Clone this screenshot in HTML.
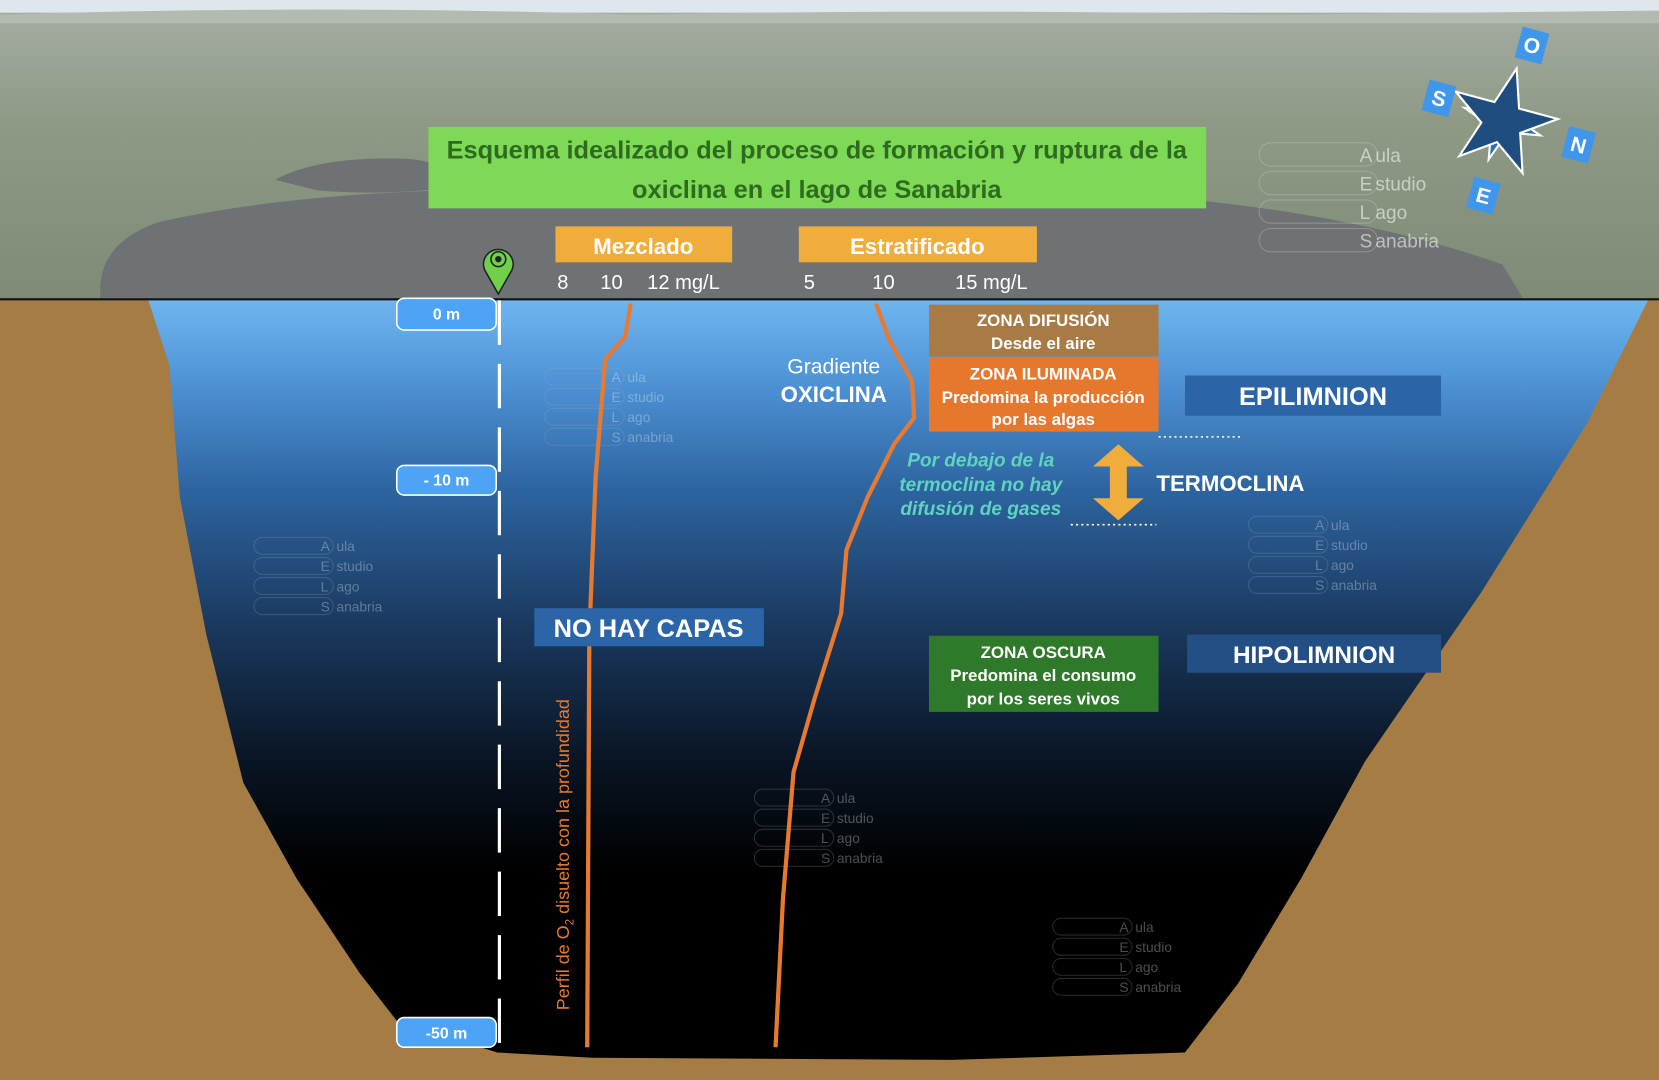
<!DOCTYPE html>
<html><head><meta charset="utf-8"><style>
html,body{margin:0;padding:0;width:1659px;height:1080px;overflow:hidden;background:#a67c45}
svg{display:block}
text{font-family:"Liberation Sans",Arial,sans-serif}
</style></head><body>
<svg width="1659" height="1080" viewBox="0 0 1568 1021" preserveAspectRatio="none" xmlns="http://www.w3.org/2000/svg">
<defs>
<linearGradient id="land" x1="0" y1="0" x2="0" y2="1">
<stop offset="0" stop-color="#a7aea4"/><stop offset="0.4" stop-color="#8e9a86"/><stop offset="1" stop-color="#7f8b77"/></linearGradient>
<linearGradient id="water" x1="0" y1="0" x2="0" y2="1">
<stop offset="0" stop-color="#6fb6f0"/><stop offset="0.12" stop-color="#4b8fd2"/><stop offset="0.25" stop-color="#2d64a0"/><stop offset="0.42" stop-color="#1b3b62"/><stop offset="0.6" stop-color="#0a1626"/><stop offset="0.75" stop-color="#000"/><stop offset="1" stop-color="#000"/></linearGradient>
</defs>
<rect x="0" y="0" width="1568" height="1021" fill="#a67c45"/>
<rect x="0" y="0" width="1568" height="284" fill="url(#land)"/>
<rect x="0" y="0" width="1568" height="12" fill="#dfe7ec"/>
<path d="M0,14 Q300,4 600,14 Q900,8 1200,14 L1568,10 L1568,22 L0,22Z" fill="#b4bab2"/>
<path d="M260,170 Q300,148 380,150 Q430,152 420,178 Q360,185 300,180Z" fill="#6e7274"/>
<path d="M95,283 Q90,230 150,210 Q260,185 420,180 L1000,180 Q1250,190 1420,250 L1440,283Z" fill="#6e7274"/>
<!-- water -->
<path d="M140,283 L1558,283 L1500,400 L1400,560 L1290,720 L1230,830 L1170,930 L1120,995 L900,1002 L560,1000 L470,995 L375,965 L340,920 L280,830 L230,740 L195,600 L170,470 L160,345 Z" fill="url(#water)"/>
<line x1="0" y1="283" x2="1568" y2="283" stroke="#111" stroke-width="2"/>
<!-- watermarks -->
<g fill="none" stroke="#c8ccc8" stroke-opacity="0.35" font-size="18">
<g transform="translate(1190,135)"><rect x="0" y="0" width="112" height="22" rx="11"/><rect x="0" y="27" width="112" height="22" rx="11"/><rect x="0" y="54" width="112" height="22" rx="11"/><rect x="0" y="81" width="112" height="22" rx="11"/>
<g fill="#ffffff" fill-opacity="0.55" stroke="none"><text x="95" y="18">A</text><text x="110" y="18">ula</text><text x="95" y="45">E</text><text x="110" y="45">studio</text><text x="95" y="72">L</text><text x="110" y="72">ago</text><text x="95" y="99">S</text><text x="110" y="99">anabria</text></g></g>
</g>
<g fill="none" stroke="#9ab" stroke-opacity="0.25" font-size="13">
<g transform="translate(515,348)"><rect width="75" height="16" rx="8"/><rect y="19" width="75" height="16" rx="8"/><rect y="38" width="75" height="16" rx="8"/><rect y="57" width="75" height="16" rx="8"/><g fill="#fff" fill-opacity="0.3" stroke="none"><text x="63" y="13">A</text><text x="78" y="13">ula</text><text x="63" y="32">E</text><text x="78" y="32">studio</text><text x="63" y="51">L</text><text x="78" y="51">ago</text><text x="63" y="70">S</text><text x="78" y="70">anabria</text></g></g>
<g transform="translate(240,508)"><rect width="75" height="16" rx="8"/><rect y="19" width="75" height="16" rx="8"/><rect y="38" width="75" height="16" rx="8"/><rect y="57" width="75" height="16" rx="8"/><g fill="#fff" fill-opacity="0.3" stroke="none"><text x="63" y="13">A</text><text x="78" y="13">ula</text><text x="63" y="32">E</text><text x="78" y="32">studio</text><text x="63" y="51">L</text><text x="78" y="51">ago</text><text x="63" y="70">S</text><text x="78" y="70">anabria</text></g></g>
<g transform="translate(1180,488)"><rect width="75" height="16" rx="8"/><rect y="19" width="75" height="16" rx="8"/><rect y="38" width="75" height="16" rx="8"/><rect y="57" width="75" height="16" rx="8"/><g fill="#fff" fill-opacity="0.3" stroke="none"><text x="63" y="13">A</text><text x="78" y="13">ula</text><text x="63" y="32">E</text><text x="78" y="32">studio</text><text x="63" y="51">L</text><text x="78" y="51">ago</text><text x="63" y="70">S</text><text x="78" y="70">anabria</text></g></g>
<g transform="translate(713,746)"><rect width="75" height="16" rx="8"/><rect y="19" width="75" height="16" rx="8"/><rect y="38" width="75" height="16" rx="8"/><rect y="57" width="75" height="16" rx="8"/><g fill="#fff" fill-opacity="0.3" stroke="none"><text x="63" y="13">A</text><text x="78" y="13">ula</text><text x="63" y="32">E</text><text x="78" y="32">studio</text><text x="63" y="51">L</text><text x="78" y="51">ago</text><text x="63" y="70">S</text><text x="78" y="70">anabria</text></g></g>
<g transform="translate(995,868)"><rect width="75" height="16" rx="8"/><rect y="19" width="75" height="16" rx="8"/><rect y="38" width="75" height="16" rx="8"/><rect y="57" width="75" height="16" rx="8"/><g fill="#fff" fill-opacity="0.3" stroke="none"><text x="63" y="13">A</text><text x="78" y="13">ula</text><text x="63" y="32">E</text><text x="78" y="32">studio</text><text x="63" y="51">L</text><text x="78" y="51">ago</text><text x="63" y="70">S</text><text x="78" y="70">anabria</text></g></g>
</g>
<!-- compass -->
<g transform="translate(1420,115)">
<polygon points="0,-38 8,-8 38,0 8,8 0,38 -8,8 -38,0 -8,-8" fill="#2f6fb0" stroke="#fff" stroke-width="2" transform="rotate(20)"/>
<polygon points="0,-52 12,-16 50,-16 19,6 31,42 0,20 -31,42 -19,6 -50,-16 -12,-16" fill="#1f4d80" stroke="#fff" stroke-width="2" transform="rotate(15)"/>
<g font-weight="bold" font-size="20" fill="#fff" text-anchor="middle">
<g transform="translate(28,-72) rotate(15)"><rect x="-13" y="-15" width="26" height="30" fill="#3f96ea"/><text y="7">O</text></g>
<g transform="translate(-60,-22) rotate(15)"><rect x="-13" y="-15" width="26" height="30" fill="#3f96ea"/><text y="7">S</text></g>
<g transform="translate(72,22) rotate(15)"><rect x="-13" y="-15" width="26" height="30" fill="#3f96ea"/><text y="7">N</text></g>
<g transform="translate(-18,70) rotate(15)"><rect x="-13" y="-15" width="26" height="30" fill="#3f96ea"/><text y="7">E</text></g>
</g></g>
<!-- title -->
<rect x="405" y="120" width="735" height="77" fill="#7ed957"/>
<text x="772" y="150" text-anchor="middle" font-size="24" font-weight="bold" fill="#2e6b1f">Esquema idealizado del proceso de formación y ruptura de la</text>
<text x="772" y="187" text-anchor="middle" font-size="24" font-weight="bold" fill="#2e6b1f">oxiclina en el lago de Sanabria</text>
<rect x="525" y="214" width="167" height="34" fill="#f0ad3c"/>
<text x="608" y="240" text-anchor="middle" font-size="21" font-weight="bold" fill="#fff">Mezclado</text>
<rect x="755" y="214" width="225" height="34" fill="#f0ad3c"/>
<text x="867" y="240" text-anchor="middle" font-size="21" font-weight="bold" fill="#fff">Estratificado</text>
<g font-size="19" fill="#fff" text-anchor="middle"><text x="532" y="273">8</text><text x="578" y="273">10</text><text x="646" y="273">12 mg/L</text><text x="765" y="273">5</text><text x="835" y="273">10</text><text x="937" y="273">15 mg/L</text></g>
<!-- pin -->
<path d="M471,278 L458,255 A14,14 0 1,1 484,255 Z" fill="#6fd14a" stroke="#222" stroke-width="1.5"/>
<circle cx="471" cy="245" r="7" fill="none" stroke="#222" stroke-width="1.5"/><circle cx="471" cy="245" r="3" fill="#222"/>
<!-- axis -->
<line x1="472" y1="284" x2="472" y2="990" stroke="#fff" stroke-width="3" stroke-dasharray="42,18"/>
<g font-size="15" font-weight="bold" fill="#fff" text-anchor="middle">
<rect x="375" y="282" width="94" height="30" rx="7" fill="#4da3f5" stroke="#fff" stroke-width="1.5"/><text x="422" y="302">0 m</text>
<rect x="375" y="440" width="94" height="28" rx="7" fill="#4da3f5" stroke="#fff" stroke-width="1.5"/><text x="422" y="459">- 10 m</text>
<rect x="375" y="962" width="94" height="28" rx="7" fill="#4da3f5" stroke="#fff" stroke-width="1.5"/><text x="422" y="982">-50 m</text>
</g>
<!-- curves -->
<path d="M596,287 L591,318 L572,340 L563,450 L557,600 L555,990" fill="none" stroke="#e87a2f" stroke-width="4"/>
<path d="M828,287 L840,320 L862,360 L864,395 L845,420 L820,470 L800,520 L795,580 L770,660 L750,730 L740,850 L733,990" fill="none" stroke="#e87a2f" stroke-width="4"/>
<text transform="translate(538,808) rotate(-90)" text-anchor="middle" font-size="17" fill="#e87a2f">Perfil de O<tspan font-size="11" dy="4">2</tspan><tspan dy="-4"> disuelto con la profundidad</tspan></text>
<text x="788" y="353" text-anchor="middle" font-size="20" fill="#fff">Gradiente</text>
<text x="788" y="380" text-anchor="middle" font-size="21" font-weight="bold" fill="#fff">OXICLINA</text>
<!-- zones -->
<rect x="878" y="288" width="217" height="49" fill="#a87a44"/>
<text x="986" y="308" text-anchor="middle" font-size="16" font-weight="bold" fill="#fff">ZONA DIFUSIÓN</text>
<text x="986" y="330" text-anchor="middle" font-size="16" font-weight="bold" fill="#fff">Desde el aire</text>
<rect x="878" y="338" width="217" height="70" fill="#e6782e"/>
<g font-size="16" font-weight="bold" fill="#fff" text-anchor="middle"><text x="986" y="359">ZONA ILUMINADA</text><text x="986" y="381">Predomina la producción</text><text x="986" y="402">por las algas</text></g>
<rect x="878" y="601" width="217" height="72" fill="#2f7a2a"/>
<g font-size="16" font-weight="bold" fill="#fff" text-anchor="middle"><text x="986" y="622">ZONA OSCURA</text><text x="986" y="644">Predomina el consumo</text><text x="986" y="666">por los seres vivos</text></g>
<line x1="1095" y1="413" x2="1172" y2="413" stroke="#fff" stroke-width="1.5" stroke-dasharray="2,3"/>
<line x1="1012" y1="496" x2="1093" y2="496" stroke="#fff" stroke-width="1.5" stroke-dasharray="2,3"/>
<polygon points="1057,420 1081,441 1065,441 1065,471 1081,471 1057,492 1033,471 1049,471 1049,441 1033,441" fill="#f0ad3c"/>
<g font-size="18" font-weight="bold" font-style="italic" fill="#5fd3c0" text-anchor="middle"><text x="927" y="441">Por debajo de la</text><text x="927" y="464">termoclina no hay</text><text x="927" y="487">difusión de gases</text></g>
<text x="1093" y="464" font-size="21" font-weight="bold" fill="#fff">TERMOCLINA</text>
<rect x="1120" y="355" width="242" height="38" fill="#2c64a8"/>
<text x="1241" y="383" text-anchor="middle" font-size="24" font-weight="bold" fill="#fff">EPILIMNION</text>
<rect x="1122" y="600" width="240" height="36" fill="#244f85"/>
<text x="1242" y="627" text-anchor="middle" font-size="23" font-weight="bold" fill="#fff">HIPOLIMNION</text>
<rect x="505" y="575" width="217" height="36" fill="#2c64a8"/>
<text x="613" y="602" text-anchor="middle" font-size="24" font-weight="bold" fill="#fff">NO HAY CAPAS</text>
</svg>
</body></html>
